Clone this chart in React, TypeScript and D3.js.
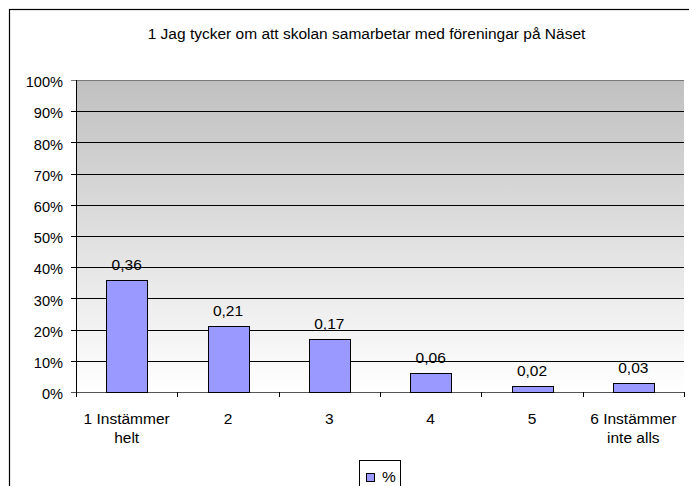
import React from "react";
import * as d3 from "d3";

const categories: string[][] = [
  ["1 Instämmer", "helt"],
  ["2"],
  ["3"],
  ["4"],
  ["5"],
  ["6 Instämmer", "inte alls"],
];
const values: number[] = [0.36, 0.21, 0.17, 0.06, 0.02, 0.03];
const yTicks: number[] = [0, 0.1, 0.2, 0.3, 0.4, 0.5, 0.6, 0.7, 0.8, 0.9, 1.0];
const title = "1 Jag tycker om att skolan samarbetar med föreningar på Näset";
const seriesName = "%";

const W = 689;
const H = 486;
const plot = { left: 76, right: 684, top: 80, bottom: 392 };
const FONT = "'Liberation Sans', Arial, sans-serif";
const FS = 15.5;

export default function App() {
  const x = d3
    .scaleBand<number>()
    .domain(d3.range(categories.length))
    .range([plot.left, plot.right])
    .paddingInner(0.6)
    .paddingOuter(0.3);
  const band = d3
    .scaleBand<number>()
    .domain(d3.range(categories.length))
    .range([plot.left, plot.right]);
  const y = d3.scaleLinear().domain([0, 1]).range([plot.bottom, plot.top]);
  const fmt = (v: number) => d3.format(".2f")(v).replace(".", ",");

  return (
    <svg
      width={W}
      height={H}
      style={{ position: "absolute", left: 0, top: 0, background: "#fff" }}
      fontFamily={FONT}
    >
      <defs>
        <linearGradient id="bg" x1="0" y1="0" x2="0" y2="1">
          <stop offset="0" stopColor="#c0c0c0" />
          <stop offset="1" stopColor="#ffffff" />
        </linearGradient>
      </defs>
      <rect x={9.5} y={9.5} width={760} height={520} fill="#fff" stroke="#000" strokeWidth={1.2} />
      <text x={366.5} y={39} fontSize={15.5} textAnchor="middle" fill="#000">
        {title}
      </text>
      <rect
        x={plot.left}
        y={plot.top}
        width={plot.right - plot.left}
        height={plot.bottom - plot.top}
        fill="url(#bg)"
      />
      {yTicks.map((t) => (
        <g key={t}>
          <line
            x1={plot.left - 5}
            x2={plot.right}
            y1={Math.round(y(t)) + 0.5}
            y2={Math.round(y(t)) + 0.5}
            stroke={t === 0 ? "#555" : t === 1 ? "#777" : "#000"}
            strokeWidth={1}
          />
          <text
            x={63}
            y={y(t) + 2}
            dy="0.36em"
            fontSize={14.6}
            textAnchor="end"
            fill="#000"
          >
            {Math.round(t * 100) + "%"}
          </text>
        </g>
      ))}
      <line x1={plot.left + 0.5} x2={plot.left + 0.5} y1={plot.top} y2={plot.bottom} stroke="#000" />
      {d3.range(categories.length + 1).map((i) => {
        const xx = Math.round(i < categories.length ? band(i)! : plot.right) + 0.5;
        return <line key={i} x1={xx} x2={xx} y1={plot.bottom} y2={plot.bottom + 5} stroke="#000" />;
      })}
      {values.map((v, i) => (
        <g key={i}>
          <rect
            x={Math.round(x(i)!) + 0.5}
            y={Math.round(y(v)) + 0.5}
            width={Math.round(x.bandwidth())}
            height={Math.round(y(0)) - Math.round(y(v))}
            fill="#9999ff"
            stroke="#000"
            strokeWidth={1}
          />
          <text
            x={x(i)! + x.bandwidth() / 2}
            y={y(v) - 10}
            fontSize={FS}
            textAnchor="middle"
            fill="#000"
          >
            {fmt(v)}
          </text>
        </g>
      ))}
      {categories.map((lines, i) => (
        <text
          key={i}
          x={band(i)! + band.bandwidth() / 2}
          y={423.5}
          fontSize={FS}
          textAnchor="middle"
          fill="#000"
        >
          {lines.map((l, j) => (
            <tspan key={j} x={band(i)! + band.bandwidth() / 2} dy={j === 0 ? 0 : 19.5}>
              {l}
            </tspan>
          ))}
        </text>
      ))}
      <g>
        <rect x={359.5} y={460.5} width={41} height={40} fill="#fff" stroke="#000" />
        <rect x={366.5} y={473.5} width={8} height={8} fill="#9999ff" stroke="#000" />
        <text x={382} y={482} fontSize={FS} fill="#000">
          {seriesName}
        </text>
      </g>
    </svg>
  );
}
